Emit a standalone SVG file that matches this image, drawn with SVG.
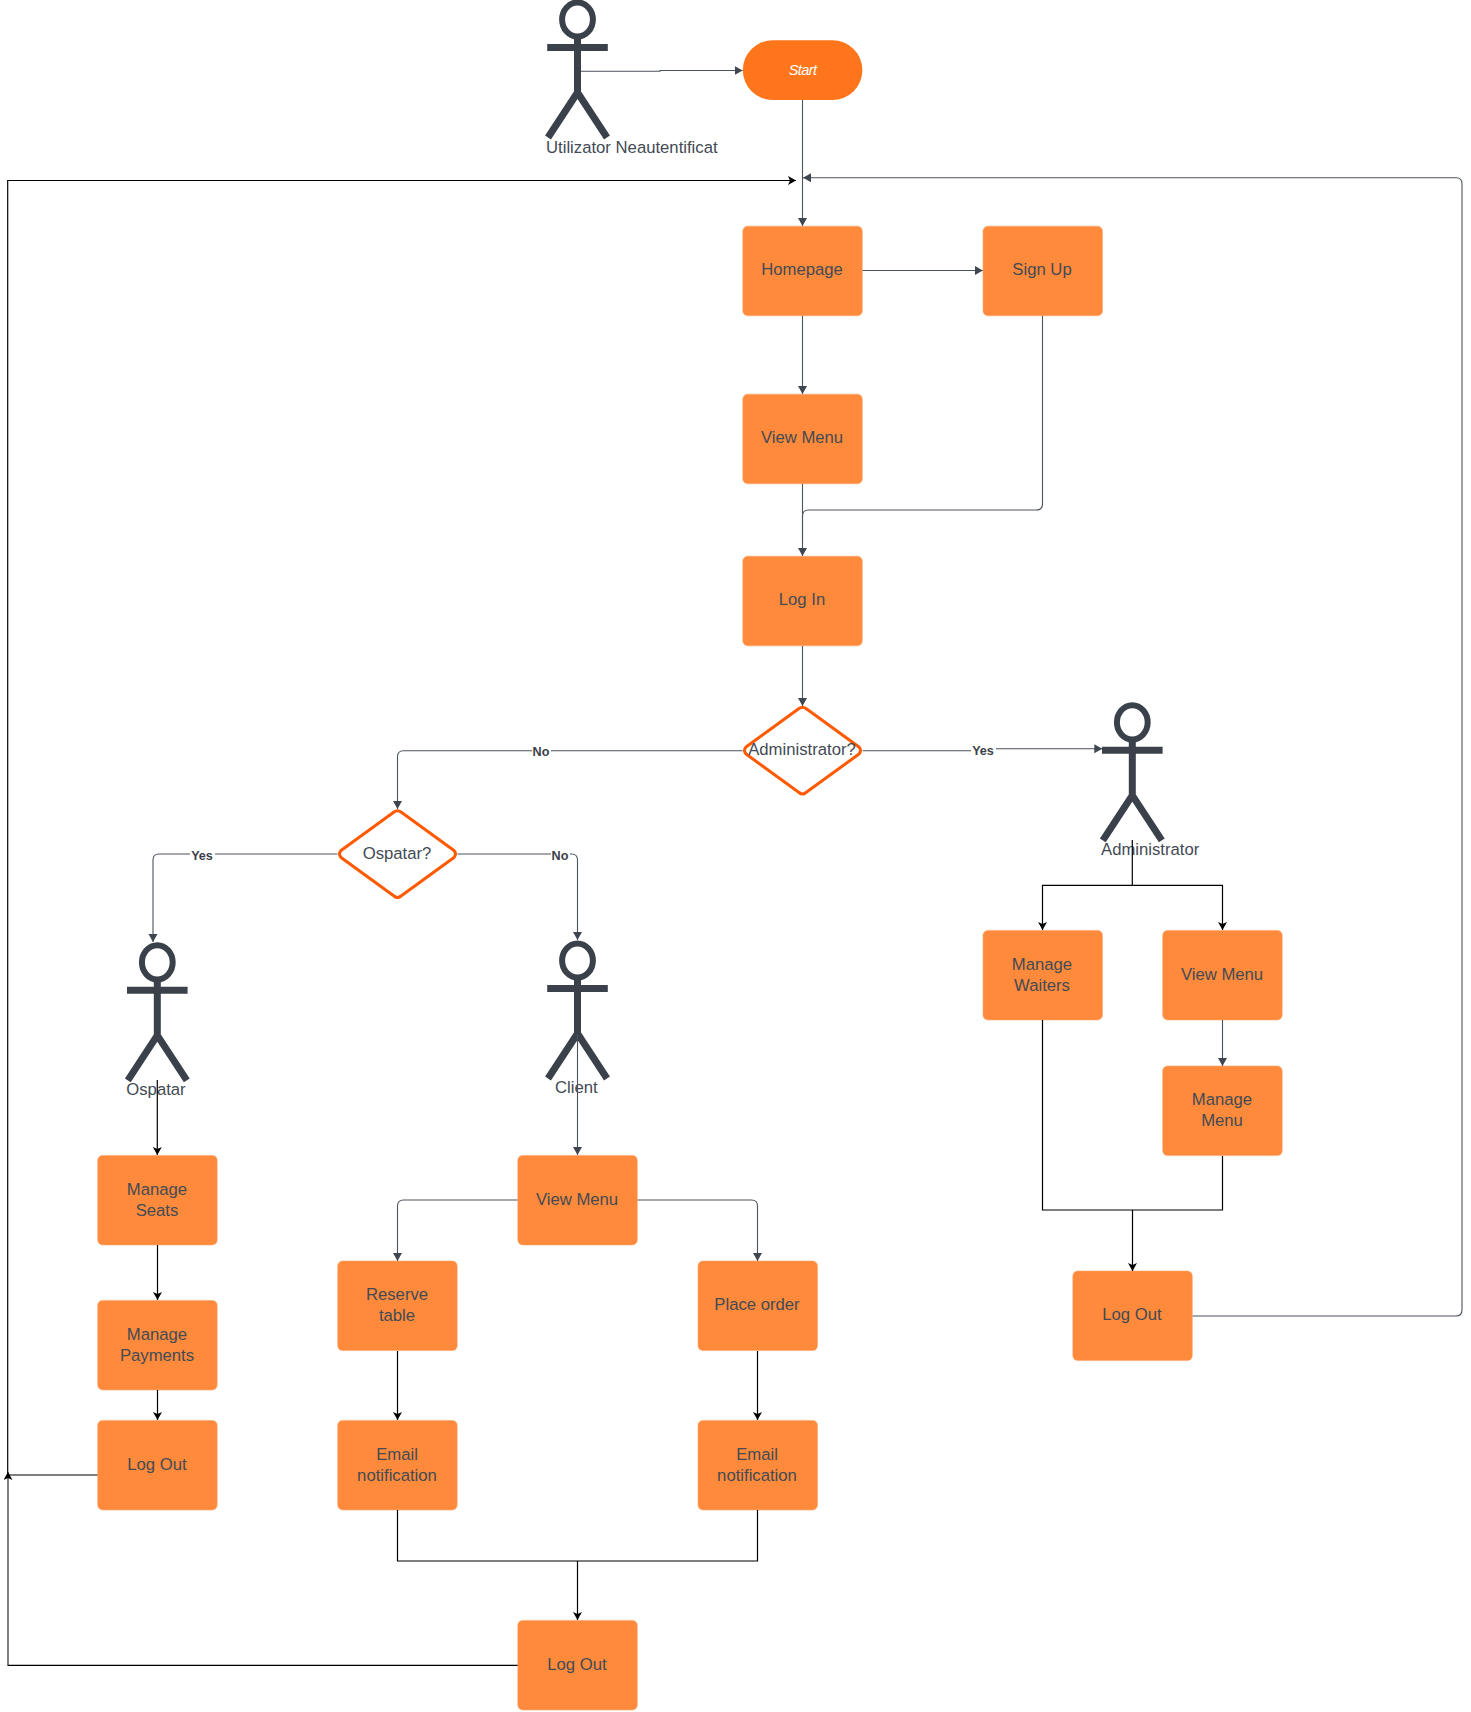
<svg xmlns="http://www.w3.org/2000/svg" width="1471" height="1712" viewBox="0 0 1471 1712">
<style>
text{font-family:"Liberation Sans",Arial,sans-serif;font-size:16.7px;fill:#434a54;text-anchor:middle}
.box{fill:#ff8a3b;stroke:#ffa56b;stroke-width:.6}
.dia{fill:#fff;stroke:#ff5a00;stroke-width:3;stroke-linejoin:round}
.actor{fill:none;stroke:#3a414a;stroke-width:7}
.al{text-anchor:start}
.g{fill:none;stroke:#4c535d;stroke-width:1.1;marker-end:url(#ag)}
.gn{fill:none;stroke:#4c535d;stroke-width:1.1}
.k{fill:none;stroke:#000;stroke-width:1.2}
.ka{fill:none;stroke:#000;stroke-width:1.2;marker-end:url(#ak)}
.lb{font-size:12.6px;font-weight:bold;fill:#3a414a}
</style>
<defs>
<marker id="ag" markerUnits="userSpaceOnUse" markerWidth="9" markerHeight="10" refX="8" refY="4.5" orient="auto"><path d="M0,0L8,4.5L0,9Z" fill="#3f4650"/></marker>
<marker id="ak" markerUnits="userSpaceOnUse" markerWidth="9" markerHeight="10" refX="8" refY="4.5" orient="auto"><path d="M0,0L8,4.5L0,9L2,4.5Z" fill="#000"/></marker>
<g id="fig"><ellipse cx="0" cy="20" rx="15.400" ry="17.100" stroke-width="6"/><path d="M0,37V93M-30.300,48H30.300M0,93L-29.500,138M0,93L29.500,138"/></g>
</defs>
<g id="actor-guest" class="actor"><use href="#fig" x="577.500" y="-0.500"/></g>
<g id="actor-guest-label"><text class="al" x="546" y="153">Utilizator Neautentificat</text></g>
<g id="start"><rect x="742.800" y="40.200" width="119.600" height="59.800" rx="29.900" fill="#ff751b"/><text x="802.500" y="75" style="fill:#fff;font-style:italic;font-size:14.500px;letter-spacing:-.6px">Start</text></g>
<g id="homepage"><rect class="box" x="742.800" y="226.200" width="119.500" height="89.600" rx="5"/><text x="802" y="275">Homepage</text></g>
<g id="signup"><rect class="box" x="983" y="226.200" width="119.500" height="89.600" rx="5"/><text x="1042" y="275">Sign Up</text></g>
<g id="viewmenu-top"><rect class="box" x="742.800" y="394.200" width="119.500" height="89.600" rx="5"/><text x="802" y="443">View Menu</text></g>
<g id="login"><rect class="box" x="742.800" y="556.200" width="119.500" height="89.600" rx="5"/><text x="802" y="605">Log In</text></g>
<g id="q-admin"><path class="dia" d="M799,708.500Q802.500,706 806,708.500L859,747Q862,750.500 859,754L806,792.500Q802.500,795.500 799,792.500L746,754Q743,750.500 746,747Z"/><text x="802" y="755">Administrator?</text></g>
<g id="q-waiter"><path class="dia" d="M394,812Q397.500,809.500 401,812L454,850.500Q457,854 454,857.500L401,896Q397.500,899 394,896L341,857.500Q338,854 341,850.500Z"/><text x="397" y="859">Ospatar?</text></g>
<g id="actor-admin" class="actor"><use href="#fig" x="1132.300" y="702.300"/></g>
<g id="actor-admin-label"><text class="al" x="1101" y="855">Administrator</text></g>
<g id="actor-waiter" class="actor"><use href="#fig" x="157.300" y="942.300"/></g>
<g id="actor-waiter-label"><text class="al" x="126.300" y="1095">Ospatar</text></g>
<g id="actor-client" class="actor"><use href="#fig" x="577.500" y="940.500"/></g>
<g id="actor-client-label"><text class="al" x="555" y="1093">Client</text></g>
<g id="manage-waiters"><rect class="box" x="983" y="930.400" width="119.500" height="89.600" rx="5"/><text x="1042" y="970">Manage</text><text x="1042" y="991">Waiters</text></g>
<g id="viewmenu-admin"><rect class="box" x="1162.700" y="930.400" width="119.500" height="89.600" rx="5"/><text x="1222" y="980">View Menu</text></g>
<g id="manage-menu"><rect class="box" x="1162.700" y="1066" width="119.500" height="89.600" rx="5"/><text x="1222" y="1105">Manage</text><text x="1222" y="1126">Menu</text></g>
<g id="logout-admin"><rect class="box" x="1072.800" y="1271" width="119.500" height="89.600" rx="5"/><text x="1132" y="1320">Log Out</text></g>
<g id="viewmenu-client"><rect class="box" x="517.800" y="1155.400" width="119.500" height="89.600" rx="5"/><text x="577" y="1205">View Menu</text></g>
<g id="reserve"><rect class="box" x="337.700" y="1261" width="119.500" height="89.600" rx="5"/><text x="397" y="1300">Reserve</text><text x="397" y="1321">table</text></g>
<g id="place-order"><rect class="box" x="698" y="1261" width="119.500" height="89.600" rx="5"/><text x="757" y="1310">Place order</text></g>
<g id="email-1"><rect class="box" x="337.700" y="1420.400" width="119.500" height="89.600" rx="5"/><text x="397" y="1460">Email</text><text x="397" y="1481">notification</text></g>
<g id="email-2"><rect class="box" x="698" y="1420.400" width="119.500" height="89.600" rx="5"/><text x="757" y="1460">Email</text><text x="757" y="1481">notification</text></g>
<g id="logout-client"><rect class="box" x="517.800" y="1620.400" width="119.500" height="89.600" rx="5"/><text x="577" y="1670">Log Out</text></g>
<g id="manage-seats"><rect class="box" x="97.700" y="1155.400" width="119.500" height="89.600" rx="5"/><text x="157" y="1195">Manage</text><text x="157" y="1216">Seats</text></g>
<g id="manage-payments"><rect class="box" x="97.700" y="1300.400" width="119.500" height="89.600" rx="5"/><text x="157" y="1339.500">Manage</text><text x="157" y="1360.500">Payments</text></g>
<g id="logout-waiter"><rect class="box" x="97.700" y="1420.400" width="119.500" height="89.600" rx="5"/><text x="157" y="1470">Log Out</text></g>
<g id="connectors">
<path class="g" d="M581,71.300H660V70.500H742.600"/>
<path class="g" d="M802.500,100V226"/>
<path class="g" d="M862.600,270.500H982.800"/>
<path class="g" d="M802.500,316V394"/>
<path class="g" d="M802.500,484V556"/>
<path class="gn" d="M1042.500,316V504Q1042.500,510 1036.500,510H808.500Q802.500,510 802.500,516V540"/>
<path class="g" d="M802.500,646V706"/>
<path class="g" d="M742.600,750.700H403.500Q397.500,750.700 397.500,756.700V809"/>
<path class="g" d="M862.600,750.700H983V748.700H1102.300"/>
<path class="g" d="M337.500,854H159Q153,854 153,860V942"/>
<path class="g" d="M457.500,854H571.500Q577.500,854 577.500,860V940"/>
<path class="g" d="M577.500,1034V1155"/>
<path class="g" d="M1222.500,1020V1066"/>
<path class="g" d="M517.600,1200H403.500Q397.500,1200 397.500,1206V1261"/>
<path class="g" d="M637.600,1200H751.500Q757.500,1200 757.500,1206V1261"/>
<path class="g" d="M1192.600,1316H1456Q1462,1316 1462,1310V183.700Q1462,177.700 1456,177.700H803"/>
<path class="ka" d="M157.300,1080V1155"/>
<path class="ka" d="M157.500,1245V1300"/>
<path class="ka" d="M157.500,1390V1420"/>
<path class="k" d="M1132.300,840V885.300"/>
<path class="ka" d="M1132.300,885.300H1042.500V930"/>
<path class="ka" d="M1132.300,885.300H1222.500V930"/>
<path class="k" d="M1042.500,1020V1210H1222.500V1156"/>
<path class="ka" d="M1132.500,1210V1271"/>
<path class="ka" d="M397.500,1351V1420"/>
<path class="ka" d="M757.500,1351V1420"/>
<path class="k" d="M397.500,1510V1561H757.500V1510"/>
<path class="ka" d="M577.500,1561V1620"/>
<path class="ka" d="M97.500,1475H7.700V180.500H796"/>
<path class="k" d="M517.600,1665.300H7.500"/>
<path class="ka" d="M8,1665.300V1472" style="stroke:#2a2a2a"/>
<rect x="532" y="744" width="19" height="14" fill="#fff"/><text class="lb" x="541" y="755.500">No</text>
<rect x="971" y="743" width="25" height="14" fill="#fff"/><text class="lb" x="983" y="754.500">Yes</text>
<rect x="190" y="848" width="25" height="14" fill="#fff"/><text class="lb" x="202" y="859.500">Yes</text>
<rect x="551" y="848" width="19" height="14" fill="#fff"/><text class="lb" x="560" y="859.500">No</text>
</g>
</svg>
